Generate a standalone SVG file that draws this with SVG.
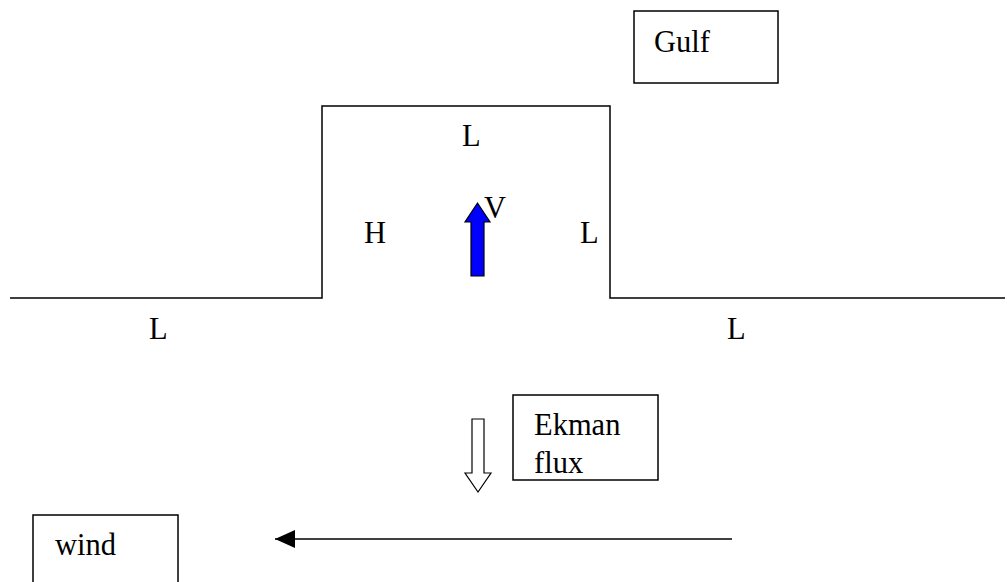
<svg xmlns="http://www.w3.org/2000/svg" width="1007" height="582" viewBox="0 0 1007 582">
<style>
text{font-family:'Liberation Serif','Times New Roman',Times,'DejaVu Serif',serif;font-size:30.5px;fill:#000}
.box{fill:#fff;stroke:#000;stroke-width:1.5}
.ln{fill:none;stroke:#000;stroke-width:1.5}
</style>
<defs>
<marker id="ah" markerWidth="20" markerHeight="18" refX="20" refY="9" orient="auto" markerUnits="userSpaceOnUse">
<path d="M0,0 L20,9 L0,18 Z" fill="#000"/>
</marker>
</defs>
<rect width="1007" height="582" fill="#fff"/>
<g id="connectors">
<polyline class="ln" points="10,298 322,298 322,106 610,106 610,298 1005,298"/>
<line class="ln" x1="732" y1="539" x2="275" y2="539" marker-end="url(#ah)"/>
<path d="M471,276 L471,222 L465,222 L477.5,203 L490,222 L484,222 L484,276 Z" fill="#0000ff" stroke="#000" stroke-width="1.2"/>
<path d="M472,419 L484,419 L484,473 L491,473 L478,492 L465,473 L472,473 Z" fill="#fff" stroke="#000" stroke-width="1.2"/>
</g>
<g id="labels">
<text x="462" y="146">L</text>
<text x="364" y="243">H</text>
<text x="580" y="243">L</text>
<text x="484" y="218">V</text>
<text x="149" y="339">L</text>
<text x="727" y="339">L</text>
</g>
<g id="gulf"><rect class="box" x="634" y="11" width="144" height="72"/><text x="654" y="52">Gulf</text></g>
<g id="ekman"><rect class="box" x="513" y="395" width="145" height="85"/><text x="534" y="435">Ekman</text><text x="534" y="473">flux</text></g>
<g id="wind"><rect class="box" x="33" y="515" width="145" height="80"/><text x="55" y="555">wind</text></g>
</svg>
